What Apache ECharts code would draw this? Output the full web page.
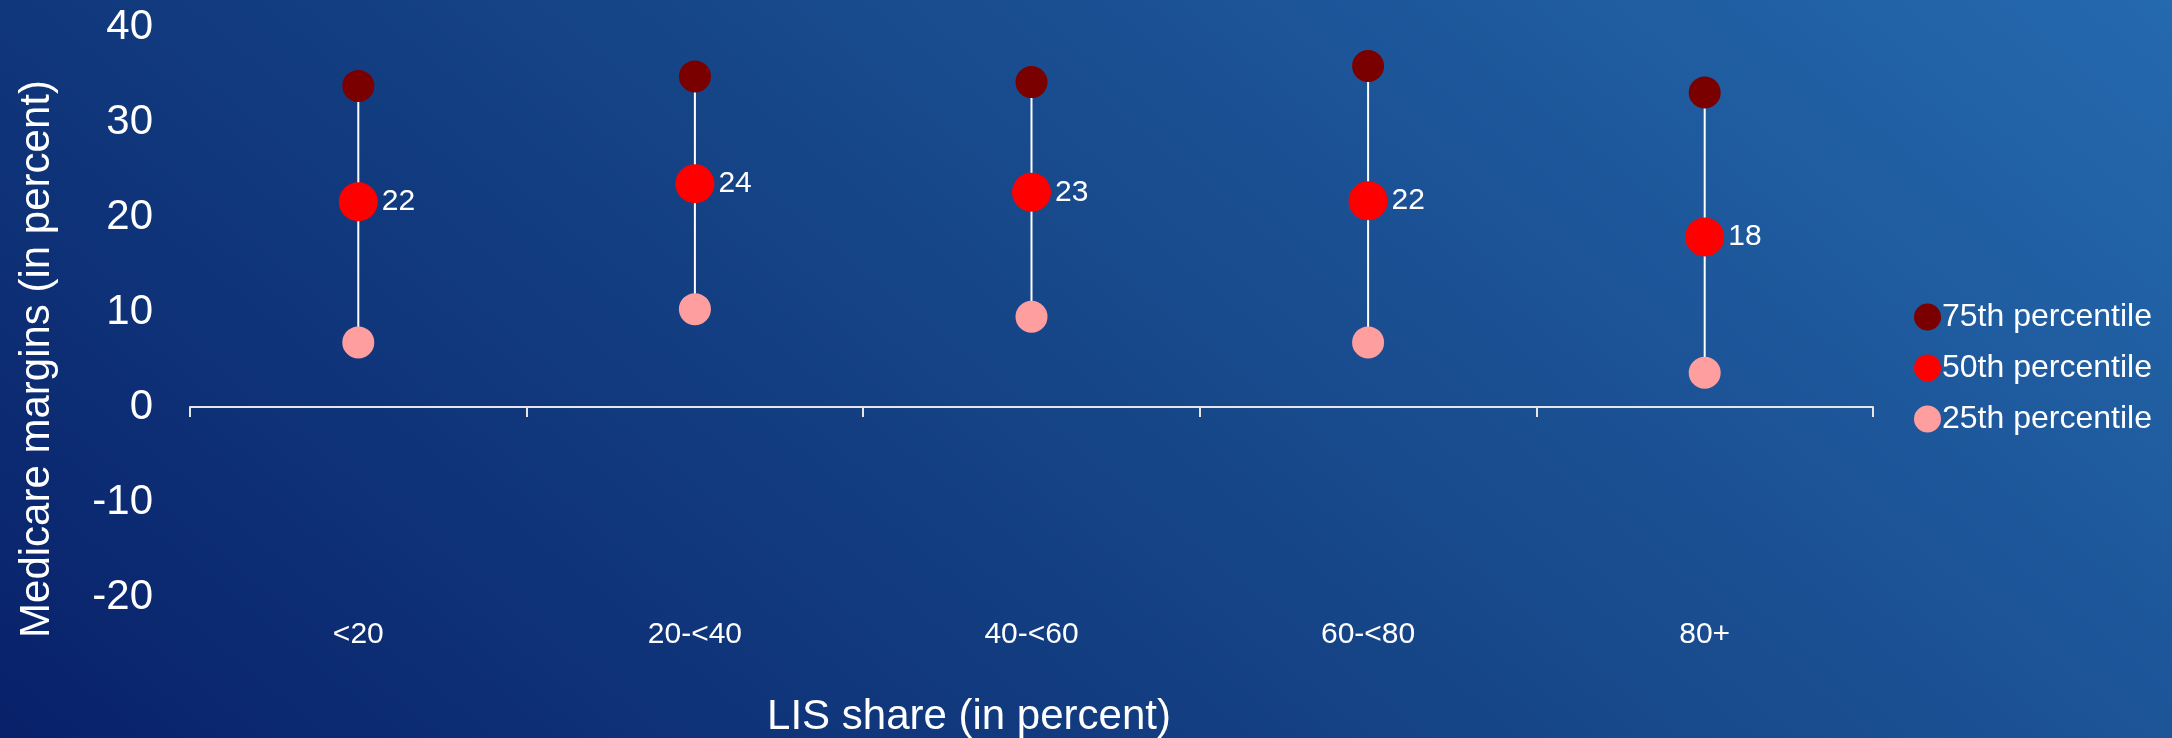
<!DOCTYPE html>
<html>
<head>
<meta charset="utf-8">
<title>Medicare margins by LIS share</title>
<script src="https://cdn.jsdelivr.net/npm/echarts@6/dist/echarts.min.js"></script>
<style>
  html, body { margin: 0; padding: 0; }
  #chart { width: 2172px; height: 738px; }
</style>
</head>
<body>
<div id="chart"></div>
<script>
// LIS share groups and Medicare margin percentiles (in percent)
const categories = ['<20', '20-<40', '40-<60', '60-<80', '80+'];
const p75 = [33.8, 34.8, 34.2, 35.9, 33.1];
const p50 = [21.6, 23.5, 22.6, 21.7, 17.9];
const p25 = [6.8, 10.3, 9.5, 6.8, 3.6];
const seriesNames = ['75th percentile', '50th percentile', '25th percentile'];
const yMin = -20, yMax = 40, yStep = 10;

const FONT = '"Liberation Sans", Arial, Helvetica, sans-serif';
const chart = echarts.init(document.getElementById('chart'), null, { renderer: 'canvas' });

// high-low bars joining the 25th and 75th percentile of each group
const rangeData = categories.map((c, i) => [i, p25[i], p75[i]]);

chart.setOption({
  backgroundColor: {
    type: 'linear', global: true,
    x: 0, y: 738, x2: 1242, y2: -767,
    colorStops: [
      { offset: 0, color: '#08216a' },
      { offset: 0.5, color: '#164688' },
      { offset: 1, color: '#2569ae' }
    ]
  },
  animation: false,
  textStyle: { fontFamily: FONT },
  grid: {
    left: 190, right: 299, top: 27, bottom: 141,
    containLabel: false, outerBoundsMode: 'none'
  },
  legend: {
    orient: 'vertical',
    left: 1909, top: 296,
    icon: 'circle',
    itemWidth: 27, itemHeight: 27, itemGap: 19,
    data: seriesNames,
    textStyle: { color: '#ffffff', fontSize: 32, fontFamily: FONT, padding: [0, 0, 0, -4] }
  },
  xAxis: [
    {
      // axis line and group ticks along the zero line
      type: 'category',
      data: categories,
      boundaryGap: true,
      axisLine: { onZero: true, lineStyle: { color: '#e6e6e6', width: 2 } },
      axisTick: { show: true, length: 10, lineStyle: { color: '#e6e6e6', width: 2 } },
      axisLabel: { show: false },
      splitLine: { show: false }
    },
    {
      // group names along the bottom edge of the plot
      type: 'category',
      data: categories,
      position: 'bottom',
      boundaryGap: true,
      axisLine: { show: false, onZero: false },
      axisTick: { show: false },
      axisLabel: { show: true, color: '#ffffff', fontSize: 30, fontFamily: FONT, margin: 23, interval: 0 },
      splitLine: { show: false }
    }
  ],
  yAxis: {
    type: 'value',
    min: yMin, max: yMax, interval: yStep,
    axisLine: { show: false },
    axisTick: { show: false },
    splitLine: { show: false },
    axisLabel: { color: '#ffffff', fontSize: 42, fontFamily: FONT, margin: 37 }
  },
  graphic: [
    {
      type: 'text', x: 37, y: 359, rotation: Math.PI / 2,
      style: {
        text: 'Medicare margins (in percent)', fill: '#ffffff',
        font: '42px ' + FONT, align: 'center', verticalAlign: 'middle'
      }
    },
    {
      type: 'text', x: 969, y: 717,
      style: {
        text: 'LIS share (in percent)', fill: '#ffffff',
        font: '42px ' + FONT, align: 'center', verticalAlign: 'middle'
      }
    }
  ],
  series: [
    {
      type: 'custom',
      name: 'range',
      z: 1,
      data: rangeData,
      encode: { x: 0, y: [1, 2] },
      renderItem: function (params, api) {
        const lo = api.coord([api.value(0), api.value(1)]);
        const hi = api.coord([api.value(0), api.value(2)]);
        return {
          type: 'line',
          shape: { x1: lo[0], y1: lo[1], x2: hi[0], y2: hi[1] },
          style: { stroke: '#ffffff', lineWidth: 2 }
        };
      }
    },
    {
      type: 'scatter', name: seriesNames[0], z: 3,
      data: p75, symbol: 'circle', symbolSize: 32,
      itemStyle: { color: '#7a0000', opacity: 1 }
    },
    {
      type: 'scatter', name: seriesNames[1], z: 3,
      data: p50, symbol: 'circle', symbolSize: 39,
      itemStyle: { color: '#ff0000', opacity: 1 },
      label: {
        show: true, position: 'right', distance: 4,
        color: '#ffffff', fontSize: 30, fontFamily: FONT,
        formatter: function (p) { return Math.round(p.value); }
      }
    },
    {
      type: 'scatter', name: seriesNames[2], z: 3,
      data: p25, symbol: 'circle', symbolSize: 32,
      itemStyle: { color: '#ff9e9e', opacity: 1 }
    }
  ]
});
</script>
</body>
</html>
